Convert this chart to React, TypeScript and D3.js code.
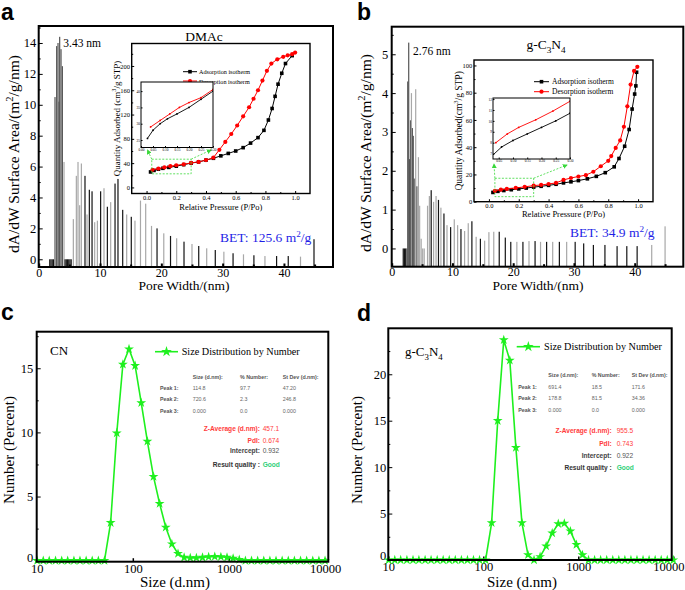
import React, { useRef, useEffect } from "react";
import * as d3 from "d3";

const SERIF = "'Liberation Serif', 'Times New Roman', Times, serif";
const SANS = "'Liberation Sans', Arial, Helvetica, sans-serif";
const LIME = "#1ef01e";
const ZOOM_GREEN = "#39d839";
const SHADES: Record<string, string> = { k: "#141414", d: "#555555", g: "#a8a8a8" };

// (a) DMAc pore size distribution: width (nm), dA/dW, bar shade
const poreWidthA = [1.8, 2.0, 2.2, 2.4, 2.66, 2.93, 3.15, 3.32, 3.42, 3.64, 3.86, 4.13, 4.3, 4.5, 4.7, 4.9, 5.1, 5.3,
  5.65, 6.14, 6.41, 6.68, 6.96, 7.55, 7.88, 8.26, 8.7, 9.13, 9.57, 10.1, 10.65, 11.2, 11.74, 12.45, 12.93, 13.7, 14.35, 15.1, 15.7, 16.6, 17.45,
  18.4, 19.3, 20.4, 21.5, 22.5, 23.7, 25.0, 26.1, 27.4, 28.8, 30.2, 31.7, 33.4, 35.1, 36.9, 38.8, 40.7, 42.7, 44.9];
const poreAreaA = [0, 0, 0, 0, 10.5, 13.8, 14.0, 10.2, 14.4, 13.6, 12.5, 6.3, 0, 0, 0, 0, 0, 0,
  2.6, 5.4, 6.3, 3.5, 6.2, 5.4, 2.9, 4.5, 4.4, 2.4, 2.5, 4.4, 4.6, 3.4, 3.7, 4.9, 5.2, 3.2, 2.9, 2.75, 2.5, 3.8, 3.6,
  2.16, 2.0, 1.68, 1.51, 1.36, 1.14, 0.99, 0.86, 0.71, 0.6, 0.49, 0.39, 0.32, 0.26, 0.21, 0.21, 0.21, 0.17, 1.3];
const poreShadeA = "kkkk" + "dddddddg" + "kkkkkk" + "gggggkgkkggkgkgkkkgkggg" + "gkgkgkgkgkgkgkgkkgk";

// (b) g-C3N4 pore size distribution
const poreWidthB = [1.9, 2.1, 2.3, 2.5, 2.64, 2.8, 2.95, 3.1, 3.25, 3.4, 3.55, 3.7, 3.95, 4.15, 4.4, 4.6, 4.85, 5.1, 5.35,
  5.9, 6.2, 6.5, 6.9, 7.3, 7.7, 8.1, 8.6, 9.1, 9.7, 10.3, 10.85, 11.4, 12.0, 12.6, 13.2, 13.9, 14.6, 15.3, 16.0,
  16.8, 17.7, 18.7, 19.6, 20.6, 21.6, 22.6, 23.6, 24.5, 25.5, 26.5, 27.6, 28.8, 30.2, 31.6, 33.2, 35.1, 37.1, 38.7, 40.4, 42.8, 45.0];
const poreAreaB = [0, 0, 0, 0, 4.3, 5.3, 2.3, 3.3, 4.0, 3.1, 2.9, 1.8, 4.1, 1.6, 2.35, 1.1, 0.25, 0, 0,
  1.1, 1.35, 1.5, 1.2, 1.35, 1.25, 1.05, 0.9, 0.6, 0.55, 0.75, 0.6, 0.5, 0.45, 0.65, 0.7, 0.3, 0.25, 0.2, 0.42,
  0.43, 0.43, 0.28, 0.17, 0.17, 0.17, 0.19, 0.19, 0.17, 0.17, 0.17, 0.17, 0.17, 0.17, 0.13, 0.09, 0.09, 0.06, 0.06, 0.06, 0.09, 0.57];
const poreShadeB = "kkkd" + "ddddgdddgdggggg" + "ggkggkgkgkggkggkgkgg" + "gkkkgkgkgkgkgkkkkkkkgg";

// N2 isotherms [P/Po, quantity adsorbed]
const adsorptionA = [[0.027, 25.5], [0.05, 28], [0.08, 30], [0.11, 31.5], [0.15, 33], [0.2, 35], [0.25, 37.5], [0.3, 40], [0.35, 42],
  [0.4, 45], [0.45, 48], [0.5, 52], [0.55, 56], [0.6, 60], [0.65, 65.5], [0.7, 73], [0.75, 82], [0.79, 94], [0.82, 111], [0.845, 130],
  [0.865, 150], [0.885, 170], [0.91, 188], [0.935, 204], [0.98, 217]];
const desorptionA = [[0.04, 29], [0.08, 31], [0.12, 33], [0.16, 35], [0.2, 36.5], [0.25, 38], [0.3, 40.5], [0.35, 42], [0.4, 45],
  [0.45, 49], [0.49, 62], [0.53, 75], [0.57, 88], [0.61, 102], [0.65, 117], [0.69, 132], [0.72, 146], [0.75, 160], [0.78, 176],
  [0.81, 192], [0.84, 204], [0.88, 211], [0.92, 215], [0.95, 217.5], [0.98, 219.5], [1.0, 222]];
const adsorptionB = [[0.027, 6.8], [0.06, 7.6], [0.1, 8.2], [0.15, 8.8], [0.2, 9.4], [0.25, 10.0], [0.3, 10.7], [0.35, 11.3], [0.4, 12.0],
  [0.45, 12.8], [0.5, 13.8], [0.55, 14.6], [0.6, 15.5], [0.66, 16.8], [0.72, 18.6], [0.78, 21.3], [0.84, 25.6], [0.872, 31.7],
  [0.91, 40.7], [0.94, 53], [0.96, 68], [0.977, 79], [0.985, 85], [0.99, 95]];
const desorptionB = [[0.04, 8.0], [0.08, 8.8], [0.12, 9.4], [0.18, 10.1], [0.24, 10.9], [0.3, 11.8], [0.35, 12.3], [0.4, 13.0], [0.45, 13.8],
  [0.5, 16.0], [0.55, 17.4], [0.6, 18.5], [0.65, 19.5], [0.7, 22.0], [0.75, 26.0], [0.8, 30.0], [0.82, 33.5], [0.85, 39.5], [0.88, 45],
  [0.905, 55], [0.928, 70], [0.95, 86], [0.973, 96], [0.995, 99]];

// DLS size bins (d.nm) and number distributions (%)
const dlsSize = [10.1, 11.7, 13.5, 15.7, 18.2, 21.0, 24.4, 28.2, 32.7, 37.8, 43.8, 50.7, 58.8, 68.1, 78.8, 91.3, 105.7, 122.4,
  141.8, 164.2, 190.1, 220.2, 255.0, 295.3, 342.0, 396.1, 458.7, 531.2, 615.1, 712.4, 825.0, 955.4, 1106, 1281, 1484, 1718,
  1990, 2305, 2669, 3091, 3580, 4145, 4801, 5560, 6439, 7456, 8635, 10000];
const dlsCN = [0, 0, 0, 0, 0, 0, 0, 0, 0, 0, 0, 0, 2.96, 9.95, 15.3, 16.5, 15.2, 12.3, 9.3, 6.55, 4.45, 2.6, 1.3, 0.55,
  0.25, 0.22, 0.22, 0.25, 0.3, 0.32, 0.3, 0.25, 0.18, 0.08, 0, 0, 0, 0, 0, 0, 0, 0, 0, 0, 0, 0, 0, 0];
const dlsGCN = [0, 0, 0, 0, 0, 0, 0, 0, 0, 0, 0, 0, 0, 0, 0, 0, 0, 4.0, 15.0, 23.7, 21.5, 12.1, 4.0, 0.55,
  0, 0.35, 1.5, 2.9, 3.9, 3.95, 3.1, 1.65, 0.55, 0, 0, 0, 0, 0, 0, 0, 0, 0, 0, 0, 0, 0, 0, 0];

const tableHead = ["Size (d.nm):", "% Number:", "St Dev (d.nm):"];
const peaksCN = [["Peak 1:", "114.8", "97.7", "47.20"], ["Peak 2:", "720.6", "2.3", "246.8"], ["Peak 3:", "0.000", "0.0", "0.000"]];
const peaksGCN = [["Peak 1:", "691.4", "18.5", "171.6"], ["Peak 2:", "178.8", "81.5", "34.36"], ["Peak 3:", "0.000", "0.0", "0.000"]];
const summaryLabels = ["Z-Average (d.nm):", "PdI:", "Intercept:", "Result quality :"];
const summaryCN = ["457.1", "0.674", "0.932", "Good"];
const summaryGCN = ["955.5", "0.743", "0.922", "Good"];
const summaryLabelColor = ["#ff3c3c", "#ff3c3c", "#444", "#333"];
const summaryValueColor = ["#ff3c3c", "#ff3c3c", "#555", "#2fd07a"];

// text with super/subscript parts: [string, 0 normal | 1 sup | -1 sub]
function rich(t: any, parts: any[], size: number) {
  let cur = 0;
  parts.forEach(([s, k]) => {
    const target = k === 1 ? -size * 0.38 : k === -1 ? size * 0.28 : 0;
    const ts = t.append("tspan").text(s).attr("dy", target - cur);
    if (k !== 0) ts.attr("font-size", size * 0.68);
    cur = target;
  });
  return t;
}

function text(g: any, x: number, y: number, size: number, opt: any = {}) {
  const t = g.append("text").attr("x", x).attr("y", y)
    .attr("font-family", opt.family || SERIF).attr("font-size", size)
    .attr("fill", opt.fill || "#000");
  if (opt.anchor) t.attr("text-anchor", opt.anchor);
  if (opt.weight) t.attr("font-weight", opt.weight);
  if (opt.rotate) t.attr("transform", `rotate(-90,${x},${y})`);
  if (opt.baseline) t.attr("dominant-baseline", opt.baseline);
  return t;
}

function axis(g: any, side: string, scale: any, values: number[], size: number, pad: number, font: number, fmt?: any, sw = 1) {
  const gen = (side === "left" ? d3.axisLeft(scale) : d3.axisBottom(scale))
    .tickValues(values).tickSizeInner(-size).tickSizeOuter(0).tickPadding(pad);
  if (fmt !== undefined) gen.tickFormat(fmt);
  const a = g.append("g").call(gen);
  a.select(".domain").remove();
  a.selectAll(".tick line").attr("stroke", "#000").attr("stroke-width", sw);
  a.selectAll(".tick text").attr("font-family", SERIF).attr("font-size", font).attr("fill", "#000");
  return a;
}

function drawPore(svg: any, p: any) {
  const x = d3.scaleLinear().domain([0, 48]).range([p.x0, p.x1]);
  const y = d3.scaleLinear().domain(p.yDom).range([p.y1, p.y0]);
  const g = svg.append("g");

  g.append("g").selectAll("rect").data(p.widths).join("rect")
    .attr("x", (d: number) => x(d) - 0.6).attr("width", 1.2)
    .attr("y", (_: number, i: number) => y(p.areas[i]))
    .attr("height", (_: number, i: number) => y(p.yDom[0]) - y(p.areas[i]))
    .attr("fill", (_: number, i: number) => SHADES[p.shades[i]]);

  const left = g.append("g").attr("transform", `translate(${p.x0},0)`);
  axis(left, "left", y, p.yTicks, 4, p.yPad, 12.5, d3.format("d"));
  axis(left, "left", y, p.yMinor, 2, 0, 1, () => "");
  const bottom = g.append("g").attr("transform", `translate(0,${p.y1})`);
  axis(bottom, "bottom", x, [0, 10, 20, 30, 40], 3.5, 1, 12, d3.format("d"), 2);
  axis(bottom, "bottom", x, [5, 15, 25, 35, 45], 2.5, 0, 1, () => "", 2);

  g.append("rect").attr("x", p.x0).attr("y", p.y0).attr("width", p.x1 - p.x0).attr("height", p.y1 - p.y0)
    .attr("fill", "none").attr("stroke", "#000").attr("stroke-width", 2);

  text(g, p.peak.x, p.peak.y, 11.5).text(p.peak.label);
  rich(text(g, p.bet.x, p.bet.y, 13.5, { fill: "#1f1fe6" }), [[`BET: ${p.bet.value} m`, 0], ["2", 1], ["/g", 0]], 13.5);
  rich(text(g, p.yTitle.x, p.yTitle.y, 15.5, { anchor: "middle", rotate: true }),
    [["dA/dW Surface Area/(m", 0], ["2", 1], ["/g/nm)", 0]], 15.5);
  text(g, p.xTitle.x, p.xTitle.y, 13.5, { anchor: "middle" }).text("Pore Width/(nm)");
}

function drawIso(svg: any, p: any) {
  const x = d3.scaleLinear().domain([-0.1, 1.1]).range([p.x0, p.x1]);
  const y = d3.scaleLinear().domain(p.yDom).range([p.y1, p.y0]);
  const g = svg.append("g");
  g.append("rect").attr("x", p.x0).attr("y", p.y0).attr("width", p.x1 - p.x0).attr("height", p.y1 - p.y0)
    .attr("fill", "#fff");

  const left = g.append("g").attr("transform", `translate(${p.x0},0)`);
  axis(left, "left", y, p.yTicks, 2.5, 1.8, 6.5, d3.format("d"));
  axis(left, "left", y, p.yMinor, 1.5, 0, 1, () => "");
  const bottom = g.append("g").attr("transform", `translate(0,${p.y1})`);
  axis(bottom, "bottom", x, [0, 0.2, 0.4, 0.6, 0.8, 1.0], 2.5, 2, 6.5, d3.format(".1f"));
  axis(bottom, "bottom", x, [0.1, 0.3, 0.5, 0.7, 0.9], 1.5, 0, 1, () => "");

  const line = d3.line<any>().x((d) => x(d[0])).y((d) => y(d[1]));
  const series = [
    { data: p.ads, color: "#000", square: true },
    { data: p.des, color: "#f00", square: false },
  ];
  series.forEach((s) => {
    g.append("path").attr("d", line(s.data)).attr("fill", "none").attr("stroke", s.color).attr("stroke-width", 1);
    const m = g.append("g").selectAll("x").data(s.data).join(s.square ? "rect" : "circle");
    if (s.square) m.attr("x", (d: any) => x(d[0]) - 1.8).attr("y", (d: any) => y(d[1]) - 1.8).attr("width", 3.6).attr("height", 3.6);
    else m.attr("cx", (d: any) => x(d[0])).attr("cy", (d: any) => y(d[1])).attr("r", 2.1);
    m.attr("fill", s.color);
  });

  g.append("rect").attr("x", p.x0).attr("y", p.y0).attr("width", p.x1 - p.x0).attr("height", p.y1 - p.y0)
    .attr("fill", "none").attr("stroke", "#000").attr("stroke-width", 1.4);

  // legend
  const lg = p.legend;
  [["Adsorption isotherm", "#000", true], ["Desorption isotherm", "#f00", false]].forEach(([label, color, sq]: any, i) => {
    const ly = lg.ys[i];
    g.append("line").attr("x1", lg.x0).attr("x2", lg.x1).attr("y1", ly).attr("y2", ly).attr("stroke", color).attr("stroke-width", 1);
    const cx = (lg.x0 + lg.x1) / 2;
    if (sq) g.append("rect").attr("x", cx - 1.8).attr("y", ly - 1.8).attr("width", 3.6).attr("height", 3.6).attr("fill", color);
    else g.append("circle").attr("cx", cx).attr("cy", ly).attr("r", 2.1).attr("fill", color);
    text(g, lg.tx, ly, lg.font, { baseline: "central" }).text(label);
  });

  rich(text(g, p.title.x, p.title.y, 13.5, { anchor: "middle" }), p.title.parts, 13.5);
  rich(text(g, p.yLab.x, (p.y0 + p.y1) / 2, p.yLab.font, { anchor: "middle", rotate: true }),
    [[p.yLab.head, 0], ["3", 1], ["/g STP)", 0]], p.yLab.font);
  text(g, x(0.5), p.xLabY, 8.5, { anchor: "middle" }).text("Relative Pressure (P/Po)");

  // zoom region
  const z = p.zoomRect;
  g.append("rect").attr("x", x(z[0])).attr("y", y(z[3])).attr("width", x(z[1]) - x(z[0])).attr("height", y(z[2]) - y(z[3]))
    .attr("fill", "none").attr("stroke", ZOOM_GREEN).attr("stroke-width", 0.8).attr("stroke-dasharray", "2,1.5");
  p.arrows.forEach((a: any) => {
    g.append("line").attr("x1", x(a[0])).attr("y1", y(a[1])).attr("x2", a[2]).attr("y2", a[3])
      .attr("stroke", ZOOM_GREEN).attr("stroke-width", 0.8).attr("stroke-dasharray", "2,1.5")
      .attr("marker-end", "url(#garrow)");
  });

  // magnified view
  const s = p.small;
  const sx = d3.scaleLinear().domain(s.xDom).range([s.x0, s.x1]);
  const sy = d3.scaleLinear().domain(s.yDom).range([s.y1, s.y0]);
  const sg = g.append("g");
  sg.append("rect").attr("x", s.x0).attr("y", s.y0).attr("width", s.x1 - s.x0).attr("height", s.y1 - s.y0).attr("fill", "#fff");
  const clipId = `clip-${p.id}`;
  svg.select("defs").append("clipPath").attr("id", clipId).append("rect")
    .attr("x", s.x0).attr("y", s.y0).attr("width", s.x1 - s.x0).attr("height", s.y1 - s.y0);
  const sline = d3.line<any>().x((d) => sx(d[0])).y((d) => sy(d[1]));
  const inner = sg.append("g").attr("clip-path", `url(#${clipId})`);
  series.forEach((sr) => {
    const pts = sr.data.filter((d: any) => d[0] <= s.xDom[1] + 0.05);
    inner.append("path").attr("d", sline(pts)).attr("fill", "none").attr("stroke", sr.color).attr("stroke-width", 0.9);
    inner.append("g").selectAll("circle").data(pts).join("circle")
      .attr("cx", (d: any) => sx(d[0])).attr("cy", (d: any) => sy(d[1])).attr("r", 0.9).attr("fill", sr.color);
  });
  const sl = sg.append("g").attr("transform", `translate(${s.x0},0)`);
  axis(sl, "left", sy, s.yTicks, 1.5, 1, 3.5, d3.format("d"));
  const sb = sg.append("g").attr("transform", `translate(0,${s.y1})`);
  axis(sb, "bottom", sx, s.xTicks, 1.5, 1, 3.5, d3.format(".2f"));
  sg.append("rect").attr("x", s.x0).attr("y", s.y0).attr("width", s.x1 - s.x0).attr("height", s.y1 - s.y0)
    .attr("fill", "none").attr("stroke", "#000").attr("stroke-width", 1);
}

function drawDls(svg: any, p: any) {
  const x = d3.scaleLog().domain(p.xDom).range([p.x0, p.x1]);
  const y = d3.scaleLinear().domain(p.yDom).range([p.y1, p.y0]);
  const g = svg.append("g");

  const left = g.append("g").attr("transform", `translate(${p.x0},0)`);
  const ya = axis(left, "left", y, p.yTicks, 4, p.yPad, 12.5, d3.format("d"));
  // lift the zero label so it clears the x labels, as in the original
  ya.selectAll(".tick text").filter((d: number) => d === 0).attr("dy", p.zeroDy || "0.1em");
  axis(left, "left", y, p.yMinor, 2, 0, 1, () => "");
  const bottom = g.append("g").attr("transform", `translate(0,${p.y1})`);
  const xa = axis(bottom, "bottom", x, [10, 100, 1000, 10000], 3.5, 2, 12.5, d3.format("d"), 1.5);
  // keep the last label inside the page edge
  xa.selectAll(".tick text").filter((d: number) => d === 10000).attr("dx", p.lastLabelShift || 0);

  const line = d3.line<number>().x((_, i) => x(dlsSize[i])).y((d) => y(d));
  g.append("path").attr("d", line(p.values)).attr("fill", "none").attr("stroke", LIME).attr("stroke-width", 1.6);
  const star = d3.symbol().type(d3.symbolStar).size(30);
  g.append("g").selectAll("path").data(p.values).join("path")
    .attr("d", star as any).attr("fill", LIME)
    .attr("transform", (d: number, i: number) => `translate(${x(dlsSize[i])},${y(d)})`);

  g.append("rect").attr("x", p.x0).attr("y", p.y0).attr("width", p.x1 - p.x0).attr("height", p.y1 - p.y0)
    .attr("fill", "none").attr("stroke", "#000").attr("stroke-width", 2);

  // legend
  const lg = p.legend;
  g.append("line").attr("x1", lg.x0).attr("x2", lg.x1).attr("y1", lg.y).attr("y2", lg.y).attr("stroke", LIME).attr("stroke-width", 1.6);
  g.append("path").attr("d", d3.symbol().type(d3.symbolStar).size(36)() as string).attr("fill", LIME)
    .attr("transform", `translate(${(lg.x0 + lg.x1) / 2},${lg.y})`);
  text(g, lg.tx, lg.y, 10.2, { baseline: "central" }).text("Size Distribution by Number");

  rich(text(g, p.name.x, p.name.y, 13), p.name.parts, 13);

  // report table
  const t = p.table;
  tableHead.forEach((h, i) => text(g, t.cols[i], t.headY, 5.3, { family: SANS, weight: "bold", fill: "#555", baseline: "central" }).text(h));
  p.peaks.forEach((row: string[], r: number) => {
    text(g, t.labelX, t.rowYs[r], 5.3, { family: SANS, weight: "bold", fill: "#555", baseline: "central" }).text(row[0]);
    row.slice(1).forEach((v, i) => text(g, t.cols[i], t.rowYs[r], 5.3, { family: SANS, fill: "#666", baseline: "central" }).text(v));
  });
  summaryLabels.forEach((lab, i) => {
    text(g, t.sumX, t.sumYs[i], 6.6, { family: SANS, weight: "bold", fill: summaryLabelColor[i], anchor: "end", baseline: "central" }).text(lab);
    text(g, t.valX, t.sumYs[i], 6.6, { family: SANS, weight: i === 3 ? "bold" : "normal", fill: summaryValueColor[i], baseline: "central" }).text(p.summary[i]);
  });

  text(g, p.yTitle.x, p.yTitle.y, 15, { anchor: "middle", rotate: true }).text("Number (Percent)");
  text(g, p.xTitle.x, p.xTitle.y, 15, { anchor: "middle" }).text("Size (d.nm)");
}

const App = () => {
  const svgRef = useRef<SVGSVGElement>(null);

  useEffect(() => {
    const svg = d3.select(svgRef.current);
    svg.selectAll("*").remove();
    svg.append("rect").attr("width", 685).attr("height", 590).attr("fill", "#fff");
    const defs = svg.append("defs");
    defs.append("marker").attr("id", "garrow").attr("viewBox", "0 0 6 6").attr("refX", 5).attr("refY", 3)
      .attr("markerWidth", 5).attr("markerHeight", 5).attr("markerUnits", "userSpaceOnUse").attr("orient", "auto")
      .append("path").attr("d", "M0,0L6,3L0,6Z").attr("fill", ZOOM_GREEN);

    drawPore(svg, {
      x0: 38.7, x1: 333, y0: 26, y1: 267, yDom: [-0.5, 15.1], yPad: 2.5,
      yTicks: [0, 2, 4, 6, 8, 10, 12, 14], yMinor: [1, 3, 5, 7, 9, 11, 13, 15],
      widths: poreWidthA, areas: poreAreaA, shades: poreShadeA,
      peak: { x: 63.3, y: 47, label: "3.43 nm" }, bet: { x: 220, y: 242, value: "125.6" },
      yTitle: { x: 19, y: 154 }, xTitle: { x: 184, y: 290 },
    });
    drawPore(svg, {
      x0: 391.7, x1: 683.3, y0: 26.7, y1: 266.7, yDom: [-0.47, 5.71], yPad: 3.4,
      yTicks: [0, 1, 2, 3, 4, 5], yMinor: [0.5, 1.5, 2.5, 3.5, 4.5, 5.5],
      widths: poreWidthB, areas: poreAreaB, shades: poreShadeB,
      peak: { x: 413, y: 55, label: "2.76 nm" }, bet: { x: 570, y: 237, value: "34.9" },
      yTitle: { x: 371, y: 153 }, xTitle: { x: 538, y: 290 },
    });

    drawIso(svg, {
      id: "a", x0: 131.7, x1: 310, y0: 43.5, y1: 193.5, yDom: [-10, 237],
      yTicks: [0, 40, 80, 120, 160, 200], yMinor: [20, 60, 100, 140, 180, 220],
      ads: adsorptionA, des: desorptionA,
      legend: { x0: 183, x1: 197, tx: 199, ys: [71.7, 81], font: 6.2 },
      title: { x: 204, y: 41, parts: [["DMAc", 0]] },
      yLab: { x: 119.5, head: "Quantity Adsorbed  (cm", font: 9 }, xLabY: 209.5,
      zoomRect: [0.035, 0.3, 22.4, 46.5],
      arrows: [[0.035, 46.5, 147.5, 150], [0.3, 46.5, 211, 150]],
      small: { x0: 141, x1: 213, y0: 82, y1: 147.5, xDom: [0, 0.3], yDom: [22.7, 42.8],
        xTicks: [0, 0.05, 0.1, 0.15, 0.2, 0.25, 0.3], yTicks: [25, 30, 35, 40] },
    });
    drawIso(svg, {
      id: "b", x0: 474, x1: 653, y0: 60, y1: 201.7, yDom: [0, 104],
      yTicks: [0, 20, 40, 60, 80, 100], yMinor: [10, 30, 50, 70, 90],
      ads: adsorptionB, des: desorptionB,
      legend: { x0: 534, x1: 549, tx: 552, ys: [81.7, 91.7], font: 7.5 },
      title: { x: 546, y: 49, parts: [["g-C", 0], ["3", -1], ["N", 0], ["4", -1]] },
      yLab: { x: 462, head: "Quantity Adsorbed(cm", font: 9.5 }, xLabY: 216.5,
      zoomRect: [0.04, 0.3, 3.7, 17.2],
      arrows: [[0.04, 17.2, 494, 164], [0.3, 17.2, 567, 165]],
      small: { x0: 493, x1: 570, y0: 98, y1: 159, xDom: [0.03, 0.3], yDom: [6.5, 12.1],
        xTicks: [0.05, 0.1, 0.15, 0.2, 0.25, 0.3], yTicks: [7, 8, 9, 10, 11, 12] },
    });

    drawDls(svg, {
      x0: 36.7, x1: 328.3, y0: 331.7, y1: 561.7, xDom: [10, 10814], yDom: [-0.08, 17.85], yPad: 3.5,
      yTicks: [0, 5, 10, 15], yMinor: [2.5, 7.5, 12.5, 17.5], values: dlsCN,
      legend: { x0: 155, x1: 178, y: 351.7, tx: 181.7 },
      name: { x: 50, y: 355, parts: [["CN", 0]] },
      table: { labelX: 160, cols: [192.7, 240, 282.7], headY: 376.7, rowYs: [388.3, 399.3, 410.7],
        sumX: 260, valX: 262.7, sumYs: [428.3, 440, 450.7, 464.3] },
      peaks: peaksCN, summary: summaryCN,
      yTitle: { x: 14, y: 450 }, xTitle: { x: 175, y: 587 },
    });
    drawDls(svg, {
      x0: 388.3, x1: 671.7, y0: 328.3, y1: 560, xDom: [10, 9616], yDom: [0, 24.95], yPad: 2, zeroDy: "-0.05em",
      yTicks: [0, 5, 10, 15, 20], yMinor: [2.5, 7.5, 12.5, 17.5, 22.5], values: dlsGCN, lastLabelShift: -5,
      legend: { x0: 516.7, x1: 540, y: 346.7, tx: 544 },
      name: { x: 405, y: 356, parts: [["g-C", 0], ["3", -1], ["N", 0], ["4", -1]] },
      table: { labelX: 518.3, cols: [548.3, 591.7, 631.7], headY: 375, rowYs: [386.7, 398.3, 410],
        sumX: 611.7, valX: 616.7, sumYs: [430, 443.3, 455.7, 467.3] },
      peaks: peaksGCN, summary: summaryGCN,
      yTitle: { x: 362, y: 450 }, xTitle: { x: 522, y: 587 },
    });

    // panel letters
    [["a", 1, 20], ["b", 357, 20], ["c", 1, 320], ["d", 357, 321]].forEach(([l, lx, ly]: any) => {
      text(svg, lx, ly, 23, { family: SANS, weight: "bold" }).text(l);
    });
  }, []);

  return (
    <svg ref={svgRef} width={685} height={590} style={{ position: "absolute", left: 0, top: 0 }} />
  );
};

export default App;
